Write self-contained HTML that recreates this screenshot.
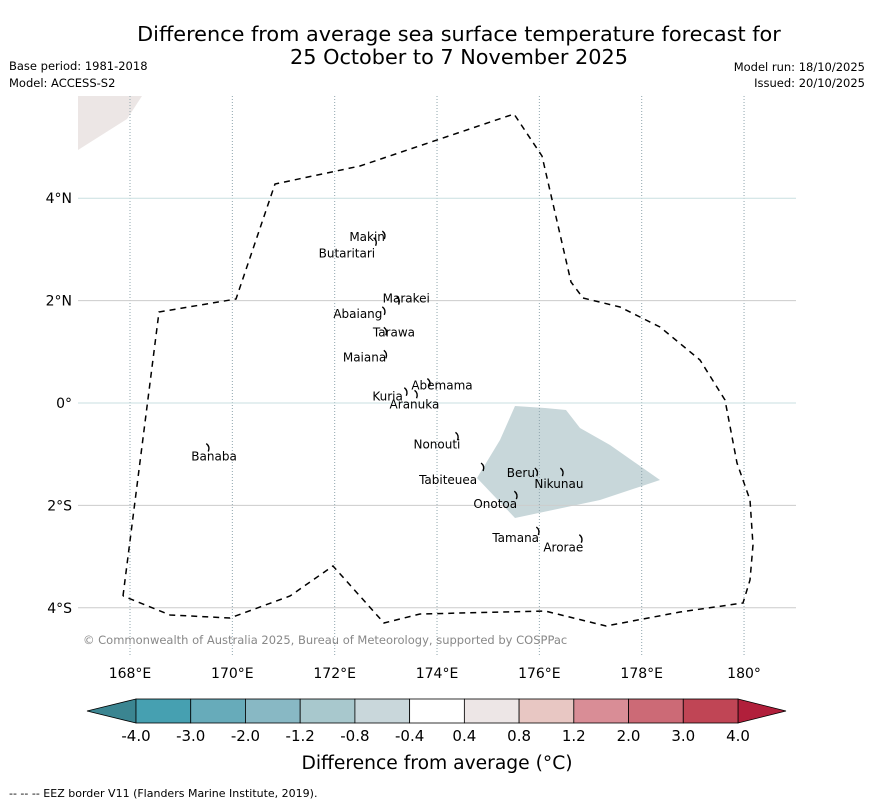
<!DOCTYPE html>
<html><head><meta charset="utf-8"><style>
body{margin:0;background:#fff;}
svg text{font-family:"DejaVu Sans","Liberation Sans",sans-serif;}
</style></head><body>
<svg width="873" height="804" viewBox="0 0 873 804" xmlns="http://www.w3.org/2000/svg">
<text x="459" y="41" font-size="20.8" text-anchor="middle">Difference from average sea surface temperature forecast for</text>
<text x="459" y="64" font-size="20.8" text-anchor="middle">25 October to 7 November 2025</text>
<text x="9" y="70" font-size="11.5">Base period: 1981-2018</text>
<text x="9" y="87" font-size="11.5">Model: ACCESS-S2</text>
<text x="865" y="71" font-size="11.5" text-anchor="end">Model run: 18/10/2025</text>
<text x="865" y="87" font-size="11.5" text-anchor="end">Issued: 20/10/2025</text>
<g id="map">
<polygon points="78,96 142,96 127,119 78,150" fill="#ece6e5"/>
<polygon points="515,406 545,408 566,410 580,428 610,445 660,480 600,500 515,518 477,478 500,440" fill="#c8d7da"/>
<g id="grid"></g>
<polyline points="123,596 159,312 236,299 275,184 360,166 514,114 542,156 571,282 583,298 620,307 660,327 700,360 725,400 737,463 750,500 753,545 750,580 743,603 680,612 606,626 545,611 420,614 384,623 333,566 290,596 230,618 170,615 123,596" fill="none" stroke="#000" stroke-width="1.5" stroke-dasharray="6,5"/>
<g id="islands" fill="none" stroke="#000" stroke-width="1.4"></g>
<text x="83" y="644" font-size="11.5" fill="#888">© Commonwealth of Australia 2025, Bureau of Meteorology, supported by COSPPac</text>
</g>
<g id="ticks" font-size="14"></g>
<g id="cbar"></g>
<text x="437" y="769" font-size="18.7" text-anchor="middle">Difference from average (°C)</text>
<text x="9" y="797" font-size="11">--  --  -- EEZ border V11 (Flanders Marine Institute, 2019).</text>
</svg>
<script>
const lonTicks=[168,170,172,174,176,178,180];
const lonLabels=["168°E","170°E","172°E","174°E","176°E","178°E","180°"];
const latTicks=[4,2,0,-2,-4];
const latLabels=["4°N","2°N","0°","2°S","4°S"];
const cbarLevels=["-4.0","-3.0","-2.0","-1.2","-0.8","-0.4","0.4","0.8","1.2","2.0","3.0","4.0"];
const cbarColors=["#46a0b1","#67abba","#88b8c4","#a8c8cd","#c9d7db","#ffffff","#ede6e6","#e8c7c3","#d98d96","#cc6a76","#c04555"];
const islandNames=["Makin","Butaritari","Marakei","Abaiang","Tarawa","Maiana","Abemama","Kuria","Aranuka","Nonouti","Tabiteuea","Beru","Nikunau","Onotoa","Tamana","Arorae","Banaba"];
const islandLon=[172.97,172.8,173.25,172.97,173.0,173.0,173.85,173.4,173.6,174.4,174.9,175.95,176.45,175.55,175.98,176.82,169.53];
const islandLat=[3.28,3.15,2.0,1.8,1.4,0.95,0.4,0.22,0.17,-0.65,-1.25,-1.35,-1.35,-1.8,-2.5,-2.65,-0.87];
const ns="http://www.w3.org/2000/svg";
const X=lon=>130+(lon-168)*51.17;
const Y=lat=>403-lat*51.2;
function mk(t,a,p){const e=document.createElementNS(ns,t);for(const k in a)e.setAttribute(k,a[k]);p.appendChild(e);return e;}
const grid=document.getElementById('grid'),ticks=document.getElementById('ticks');
lonTicks.forEach((v,i)=>{
 const l=mk('line',{x1:X(v),x2:X(v),y1:96,y2:655,stroke:'#8fa5ad','stroke-width':1,'stroke-dasharray':'1,2'},grid);
 
 
 const t=mk('text',{x:X(v),y:678,'text-anchor':'middle'},ticks);t.textContent=lonLabels[i];
 
 
});
latTicks.forEach((v,i)=>{
 const c=(v===4||v===0)?'#c9dfe0':'#cccccc';
 const l=mk('line',{x1:78,x2:796,y1:Y(v),y2:Y(v),stroke:c,'stroke-width':1},grid);
 
 
 const t=mk('text',{x:72,y:Y(v)+5,'text-anchor':'end'},ticks);t.textContent=latLabels[i];
 
 
});
const isl=document.getElementById('islands');
const offs={Makin:[-35,6],Butaritari:[-57,16],Marakei:[-16,2],Abaiang:[-51,7],Tarawa:[-13,5],Maiana:[-43,7],Abemama:[-18,7],Kuria:[-34,9],Aranuka:[-27,14],Nonouti:[-44,12],Tabiteuea:[-64,17],Beru:[-30,5],Nikunau:[-28,16],Onotoa:[-43,13],Tamana:[-46,11],Arorae:[-38,13],Banaba:[-17,13]};
islandNames.forEach((n,i)=>{
 const x=X(islandLon[i]),y=Y(islandLat[i]);
 const p=mk('path',{d:`M${x-2},${y-4} q4,3 2,8`},isl);
 
 
 const o=offs[n];
 const t=mk('text',{x:x+o[0],y:y+o[1],'font-size':12,fill:'#000',stroke:'none'},document.getElementById('map'));
 t.textContent=n;
 
 
});
const cb=document.getElementById('cbar');
const x0=136,x1=738,y0=699,y1=723,w=(x1-x0)/cbarColors.length;
const lt=mk('polygon',{points:`${x0},${y0} ${x0},${y1} 87,711`,fill:'#3b8591',stroke:'#000','stroke-width':0.8},cb);


const rt=mk('polygon',{points:`${x1},${y0} ${x1},${y1} 786,711`,fill:'#b11f3b',stroke:'#000','stroke-width':0.8},cb);


cbarColors.forEach((c,i)=>{
 const r=mk('rect',{x:x0+i*w,y:y0,width:w,height:y1-y0,fill:c,stroke:'#000','stroke-width':0.8},cb);
 
 
});
cbarLevels.forEach((v,i)=>{
 const t=mk('text',{x:x0+i*w,y:741,'font-size':15,'text-anchor':'middle'},cb);t.textContent=v;
 
 
});
</script>
</body></html>
